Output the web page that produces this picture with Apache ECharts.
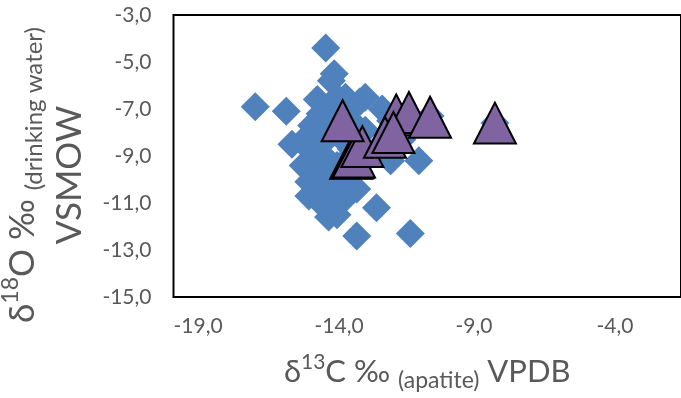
<!DOCTYPE html>
<html><head><meta charset="utf-8">
<script src="https://cdn.jsdelivr.net/npm/echarts@6/dist/echarts.min.js"></script>
<style>html,body{margin:0;padding:0;background:#fff}#c{width:681px;height:398px}</style>
</head><body><div id="c"></div>
<script>
// Series 1: blue diamonds (x = δ13C apatite, y = δ18O drinking water)
const diamondX = [-13.6,-13.3,-13.4,-12.9,-12.4,-11.6,-16.1,-15.0,-13.9,-14.1,-14.8,-14.2,-13.7,-14.4,-14.2,-13.9,-13.5,-13.7,-13.5,-13.0,-13.2,-12.9,-12.5,-11.8,-10.6,-10.3,-12.7,-12.5,-9.9,-7.6,-13.1,-12.2,-11.3,-10.9,-13.2,-14.0,-13.4,-13.8,-12.2,-13.2,-11.8,-11.3,
  -14.2,-13.7,-14.0,-13.6,-14.2,-13.7,-13.2,-13.4,-13.0,-12.9,-13.9,-13.6,-13.0,-12.7,-14.0,-13.2];
const diamondY = [-4.4,-5.5,-5.8,-6.5,-6.7,-7.0,-6.9,-7.1,-6.6,-7.7,-8.5,-8.1,-8.3,-9.4,-10.1,-9.8,-9.2,-11.1,-11.6,-10.9,-10.2,-9.8,-12.4,-11.2,-12.3,-9.2,-8.7,-10.4,-7.3,-7.6,-7.5,-7.9,-7.5,-8.3,-6.5,-10.5,-10.7,-7.2,-6.5,-9.4,-8.7,-9.2,
  -8.7,-9.0,-9.4,-9.8,-10.7,-10.5,-10.9,-8.1,-8.3,-9.2,-7.5,-7.0,-6.8,-7.5,-8.3,-11.5];
// Series 2: purple triangles (drawn in this order, later ones on top)
const triangleX = [-12.7,-12.65,-12.6,-12.3,-13.0,-11.1,-10.65,-9.9,-11.5,-11.2,-7.6];
const triangleY = [-9.1,-9.07,-9.04,-8.6,-7.5,-7.25,-7.15,-7.35,-8.2,-8.0,-7.6];
// Axes
const xMin = -19, xMax = -1, xStep = 5;
const yMin = -15, yMax = -3, yStep = 2;

const grey = '#595959';
const font = 'Lato, "Open Sans", sans-serif';
const fmt = v => v.toFixed(1).replace('.', ',');

const chart = echarts.init(document.getElementById('c'), null, {renderer: 'canvas'});
chart.setOption({
  animation: false,
  backgroundColor: '#fff',
  grid: {left: 173.5, top: 15, bottom: 101, right: -9, show: true, borderColor: '#000', borderWidth: 2, backgroundColor: 'transparent'},
  xAxis: {
    type: 'value', min: xMin, max: xMax, interval: xStep,
    axisLine: {show: false}, axisTick: {show: false}, splitLine: {show: false},
    axisLabel: {formatter: fmt, color: grey, fontSize: 21, fontFamily: font, margin: 19, align: 'left', showMaxLabel: false},
    name: '{b|δ}{sup|13}{b|C ‰ }{sub|(apatite)}{b| VPDB}',
    nameLocation: 'middle', nameGap: 55,
    nameTextStyle: {
      color: grey, fontFamily: font,
      rich: {
        b: {fontSize: 31, color: grey, fontFamily: font, lineHeight: 40},
        sup: {fontSize: 21, color: grey, fontFamily: font, verticalAlign: 'top', lineHeight: 24},
        sub: {fontSize: 23, color: grey, fontFamily: font, verticalAlign: 'bottom', lineHeight: 22}
      }
    }
  },
  yAxis: {
    type: 'value', min: yMin, max: yMax, interval: yStep,
    axisLine: {show: false}, axisTick: {show: false}, splitLine: {show: false},
    axisLabel: {formatter: fmt, color: grey, fontSize: 21, fontFamily: font, margin: 22}
  },
  graphic: [{
    type: 'text', x: 46, y: 175, rotation: Math.PI / 2,
    style: {
      text: '{b|δ}{sup|18}{b|O ‰ }{sub|(drinking water)}\n{b|VSMOW}',
      align: 'center', verticalAlign: 'middle', fill: grey, fontFamily: font,
      rich: {
        b: {fontSize: 35, fill: grey, fontFamily: font, lineHeight: 47},
        sup: {fontSize: 23, fill: grey, fontFamily: font, verticalAlign: 'top', lineHeight: 30},
        sub: {fontSize: 24, fill: grey, fontFamily: font, verticalAlign: 'bottom', lineHeight: 23}
      }
    }
  }],
  series: [
    {
      type: 'scatter', symbol: 'diamond', symbolSize: 29,
      itemStyle: {color: '#4F81BD', opacity: 1},
      data: diamondX.map((x, i) => [x, diamondY[i]]), z: 2
    },
    {
      type: 'scatter', symbol: 'triangle', symbolSize: [42, 41],
      itemStyle: {color: '#8064A2', borderColor: '#000', borderWidth: 2, opacity: 1},
      data: triangleX.map((x, i) => [x, triangleY[i]]), z: 3
    }
  ]
});
</script></body></html>
